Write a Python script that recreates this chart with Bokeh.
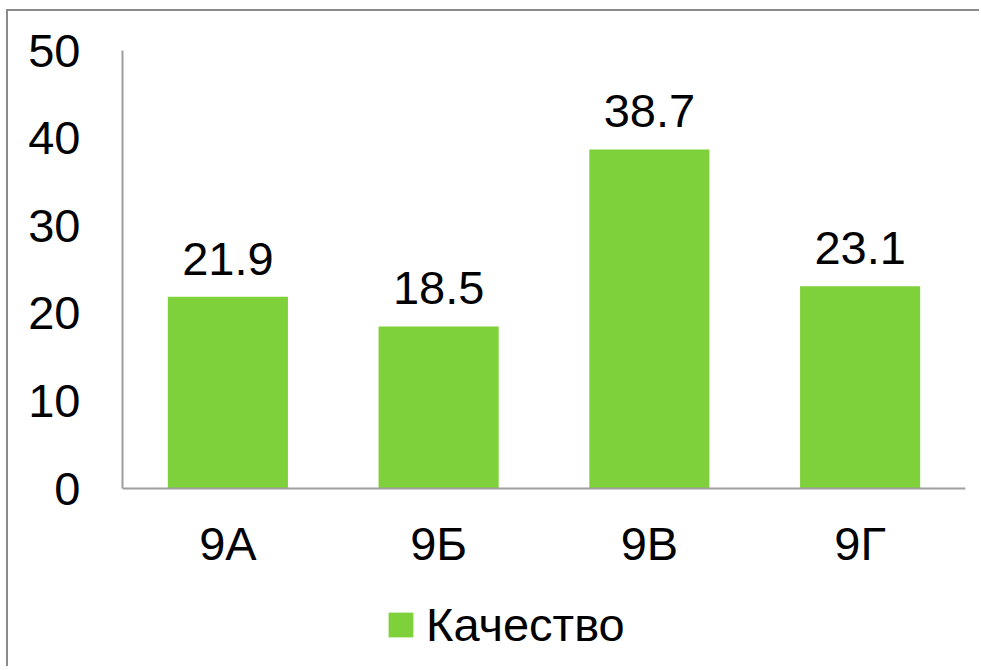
from bokeh.plotting import figure
from bokeh.models import (ColumnDataSource, FactorRange, Range1d, FixedTicker, LabelSet,
                          Legend, LegendItem, CategoricalAxis)
from bokeh.core.properties import value
from bokeh.embed import file_html
from bokeh.resources import INLINE

categories = ["9А", "9Б", "9В", "9Г"]
values = [21.9, 18.5, 38.7, 23.1]
value_labels = ["21.9", "18.5", "38.7", "23.1"]
y_ticks = [0, 10, 20, 30, 40, 50]
series_name = "Качество"

FONT = "Liberation Sans"
GREEN = "#7FD13B"
AXIS_GRAY = "#9e9e9e"
FS = "47px"

src = ColumnDataSource(dict(cat=categories, val=values, lab=value_labels))

W, H = 973, 657
TOP = 39                 # frame top inside the canvas
PLOT_H = 438             # pixels from value 0 to value 50
frame_h = H - TOP
y_min = 50 - 50 * frame_h / PLOT_H   # frame extends below 0 to host the legend

p = figure(
    x_range=FactorRange(*categories, range_padding=0),
    y_range=Range1d(y_min, 50),
    width=W, height=H,
    output_backend="svg", toolbar_location=None,
    x_axis_location=None,
    min_border_left=114, min_border_top=TOP,
    min_border_right=W - 957, min_border_bottom=0,
)
p.styles = {"margin-left": "6px", "margin-top": "9px",
            "border-left": "2px solid #8a8a8a", "border-top": "2px solid #8a8a8a"}
p.outline_line_color = None
p.xgrid.grid_line_color = None
p.ygrid.grid_line_color = None

bars = p.vbar(x="cat", top="val", width=0.57, source=src,
              fill_color=GREEN, line_color=None)

labels = LabelSet(x="cat", y="val", text="lab", source=src,
                  text_align="center", text_baseline="alphabetic",
                  y_offset=22, text_font=value(FONT), text_font_size=value(FS),
                  text_color="black")
p.add_layout(labels)

xaxis = CategoricalAxis(fixed_location=0)
p.add_layout(xaxis, "below")

for ax in (xaxis, p.yaxis[0]):
    ax.axis_line_color = AXIS_GRAY
    ax.axis_line_width = 2
    ax.major_tick_line_color = None
    ax.minor_tick_line_color = None
    ax.major_tick_out = 0
    ax.major_tick_in = 0
    ax.major_label_text_font = FONT
    ax.major_label_text_font_size = FS
    ax.major_label_text_color = "black"

p.yaxis.ticker = FixedTicker(ticks=y_ticks)
p.yaxis.bounds = (0, 50)
p.yaxis.major_label_standoff = 42
xaxis.major_label_standoff = 28

legend = Legend(items=[LegendItem(label=series_name, renderers=[bars])],
                location=(263, 16), orientation="horizontal",
                padding=0, margin=0, border_line_color=None,
                background_fill_alpha=0,
                glyph_width=31, glyph_height=31, label_standoff=10,
                label_text_font=FONT, label_text_font_size=FS,
                label_text_color="black")
p.add_layout(legend, "center")

open("out.html", "w").write(file_html(p, INLINE))
